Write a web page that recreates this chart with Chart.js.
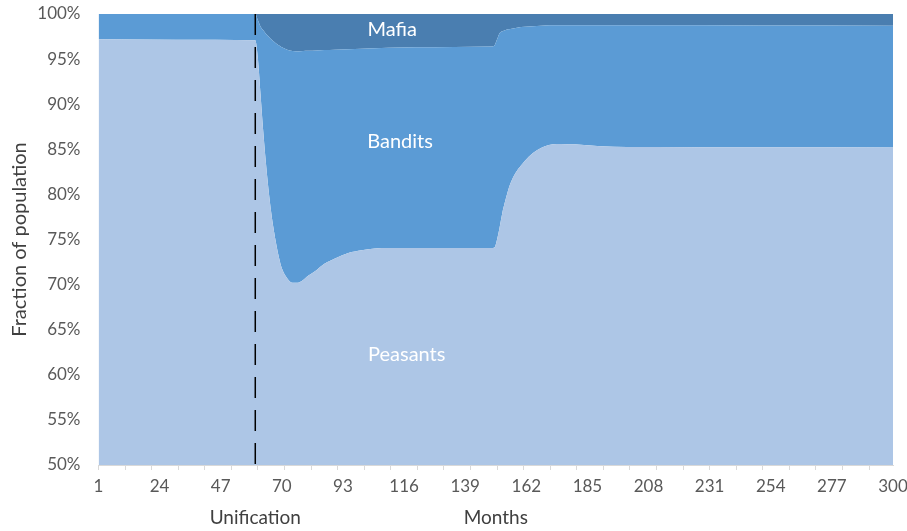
<!DOCTYPE html>
<html>
<head>
<meta charset="utf-8">
<script src="https://cdn.jsdelivr.net/npm/chart.js@4/dist/chart.umd.min.js"></script>
<style>
  html, body { margin: 0; padding: 0; background: #fff; }
  #wrap { width: 907px; height: 531px; }
</style>
</head>
<body>
<div id="wrap"><canvas id="chart"></canvas></div>
<script>
const months = [1, 30, 60, 61, 62, 63, 64, 65, 66, 67, 68, 69, 70, 72, 74, 76, 78, 80, 83, 86, 90, 95, 100, 105, 110, 120, 135, 149,
  150, 151, 152, 153, 154, 155, 156, 158, 160, 163, 166, 169, 172, 175, 180, 190, 210, 250, 300];

// share of population, percent
const peasants = [97.2, 97.15, 97.1, 95.0, 91.0, 87.0, 83.5, 80.5, 78.0, 76.0, 74.3, 72.9, 71.8, 70.7, 70.2, 70.2, 70.5, 71.0, 71.6, 72.3, 72.9, 73.5, 73.8, 74.0, 74.05, 74.05, 74.05, 74.05,
  74.1, 75.0, 76.4, 78.0, 79.2, 80.3, 81.2, 82.4, 83.2, 84.2, 84.9, 85.35, 85.55, 85.6, 85.55, 85.35, 85.25, 85.22, 85.2];
const bandits = [2.8, 2.85, 2.9, 4.3, 7.6, 11.2, 14.3, 17.0, 19.2, 20.95, 22.4, 23.6, 24.5, 25.35, 25.7, 25.65, 25.4, 24.92, 24.35, 23.7, 23.15, 22.6, 22.35, 22.2, 22.2, 22.25, 22.3, 22.35,
  22.4, 22.2, 21.5, 20.1, 19.0, 18.0, 17.15, 16.05, 15.35, 14.42, 13.78, 13.37, 13.19, 13.16, 13.21, 13.4, 13.49, 13.5, 13.5];
const mafia = [0, 0, 0, 0.7, 1.4, 1.8, 2.2, 2.5, 2.8, 3.05, 3.3, 3.5, 3.7, 3.95, 4.1, 4.15, 4.1, 4.08, 4.05, 4.0, 3.95, 3.9, 3.85, 3.8, 3.75, 3.7, 3.65, 3.6,
  3.5, 2.8, 2.1, 1.9, 1.8, 1.7, 1.65, 1.55, 1.45, 1.38, 1.32, 1.28, 1.26, 1.24, 1.24, 1.25, 1.26, 1.28, 1.3];

const seriesNames = ["Peasants", "Bandits", "Mafia"];
const seriesColors = ["#adc6e6", "#5b9bd5", "#4a7eb0"];

const xTickLabels = [1, 24, 47, 70, 93, 116, 139, 162, 185, 208, 231, 254, 277, 300];
const xTickMarks = Array.from({ length: 30 }, (_, i) => 1 + i * 10);
const yTicks = [50, 55, 60, 65, 70, 75, 80, 85, 90, 95, 100];

const unificationMonth = 60;
// where the series names sit inside the areas: [month, percent]
const areaLabels = [
  ["Mafia", 111.5, 98.3],
  ["Bandits", 114.5, 85.85],
  ["Peasants", 117, 62.2],
];

const FONT = "Lato, 'Open Sans', sans-serif";

const toPoints = (vals) => months.map((m, i) => ({ x: m, y: vals[i] }));

const noPad = (scale) => {
  scale.paddingTop = 0;
  scale.paddingBottom = 0;
  scale.paddingLeft = 0;
  scale.paddingRight = 0;
};

const overlay = {
  id: "overlay",
  afterDatasetsDraw(chart) {
    const { ctx, chartArea, scales } = chart;
    const px = scales.x.getPixelForValue(unificationMonth);
    ctx.save();
    // dashed line at unification
    ctx.strokeStyle = "#000";
    ctx.lineWidth = 1.5;
    ctx.setLineDash([21, 12]);
    ctx.beginPath();
    ctx.moveTo(px, chartArea.top);
    ctx.lineTo(px, chartArea.bottom);
    ctx.stroke();
    ctx.setLineDash([]);
    // area names
    ctx.fillStyle = "#fff";
    ctx.font = "20px " + FONT;
    ctx.textAlign = "center";
    ctx.textBaseline = "middle";
    areaLabels.forEach(([txt, m, v]) => {
      ctx.fillText(txt, scales.x.getPixelForValue(m), scales.y.getPixelForValue(v));
    });
    // unification label under the axis
    ctx.fillStyle = "#404040";
    ctx.font = "19px " + FONT;
    ctx.fillText("Unification", px, 518);
    ctx.restore();
  },
};

new Chart(document.getElementById("chart"), {
  type: "line",
  data: {
    datasets: [
      { label: seriesNames[0], data: toPoints(peasants), backgroundColor: seriesColors[0], fill: "start" },
      { label: seriesNames[1], data: toPoints(bandits), backgroundColor: seriesColors[1], fill: "-1" },
      { label: seriesNames[2], data: toPoints(mafia), backgroundColor: seriesColors[2], fill: "-1" },
    ],
  },
  options: {
    responsive: true,
    maintainAspectRatio: false,
    animation: false,
    layout: { padding: { top: 14, right: 14, left: 0, bottom: 0 } },
    elements: {
      line: { borderWidth: 0, cubicInterpolationMode: "monotone" },
      point: { radius: 0 },
    },
    plugins: { legend: { display: false }, tooltip: { enabled: false } },
    scales: {
      x: {
        type: "linear",
        min: 1,
        max: 300,
        afterBuildTicks: (scale) => {
          const vals = Array.from(new Set([...xTickLabels, ...xTickMarks])).sort((a, b) => a - b);
          scale.ticks = vals.map((v) => ({ value: v }));
        },
        afterFit: (scale) => { scale.height = 66; noPad(scale); },
        ticks: {
          autoSkip: false,
          maxRotation: 0,
          padding: 6,
          color: "#595959",
          font: { family: FONT, size: 17 },
          callback: (v) => (xTickLabels.includes(v) ? String(v) : ""),
        },
        grid: {
          drawOnChartArea: false,
          drawTicks: true,
          tickLength: 5,
          tickColor: (c) => (c.tick && xTickMarks.includes(c.tick.value) ? "#d9d9d9" : "rgba(0,0,0,0)"),
        },
        border: { display: true, color: "#d9d9d9" },
        title: {
          display: true,
          text: "Months",
          color: "#404040",
          font: { family: FONT, size: 19 },
          padding: { top: 0, bottom: 2 },
        },
      },
      y: {
        stacked: true,
        min: 50,
        max: 100,
        afterBuildTicks: (scale) => { scale.ticks = yTicks.map((v) => ({ value: v })); },
        afterFit: (scale) => { scale.width = 98.5; noPad(scale); },
        ticks: {
          padding: 18,
          color: "#595959",
          font: { family: FONT, size: 17 },
          callback: (v) => v + "%",
        },
        grid: { display: false, drawTicks: false },
        border: { display: false },
        title: {
          display: true,
          text: "Fraction of population",
          color: "#404040",
          font: { family: FONT, size: 20 },
          padding: { top: 8, bottom: 0 },
        },
      },
    },
  },
  plugins: [overlay],
});
</script>
</body>
</html>
